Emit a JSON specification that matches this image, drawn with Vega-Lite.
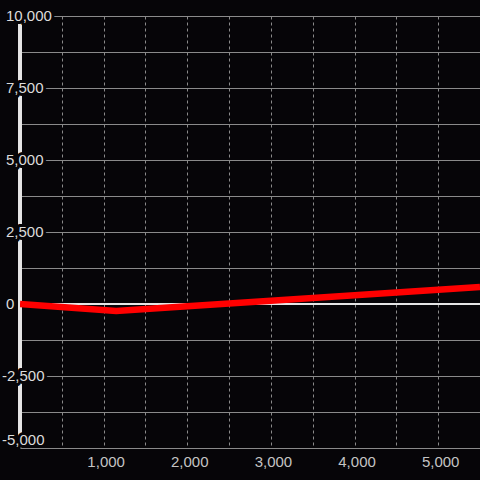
{
  "$schema": "https://vega.github.io/schema/vega-lite/v6.json",
  "width": 460,
  "height": 432,
  "autosize": {"type": "none"},
  "padding": {"left": 20, "top": 16, "right": 0, "bottom": 32},
  "background": "#060508",
  "config": {
    "view": {"stroke": null},
    "axis": {"labelFont": "Liberation Sans", "labelFontSize": 15, "ticks": false, "title": null}
  },
  "data": {
    "values": [
      {"x": 0, "y": 0},
      {"x": 1150, "y": -240},
      {"x": 2000, "y": -78},
      {"x": 3000, "y": 112},
      {"x": 4000, "y": 302},
      {"x": 5000, "y": 492},
      {"x": 5500, "y": 587}
    ]
  },
  "layer": [
    {
      "mark": {"type": "rule", "color": "#e6e6e6", "strokeWidth": 3},
      "encoding": {
        "x": {
          "datum": 0, "type": "quantitative",
          "scale": {"domain": [0, 5500], "nice": false, "zero": false},
          "axis": {"values": [500, 1000, 1500, 2000, 2500, 3000, 3500, 4000, 4500, 5000, 5500], "labelExpr": "datum.value % 1000 === 0 ? format(datum.value, ',') : ''", "domain": true, "domainColor": "#8a8a8a", "domainWidth": 1, "grid": true, "gridColor": "#8a8a8a", "gridWidth": 1, "gridDash": [3, 3], "labelColor": "#c4c4c4", "labelPadding": 6, "labelBaseline": "top", "labelOffset": 2, "labelFlush": false, "labelBound": false, "labelOverlap": false}
        },
        "y": {
          "datum": -5000, "type": "quantitative",
          "scale": {"domain": [-5000, 10000], "nice": false, "zero": false},
          "axis": {"values": [-5000, -3750, -2500, -1250, 1250, 2500, 3750, 5000, 6250, 7500, 8750, 10000], "domain": false, "labels": false, "grid": true, "gridColor": "#8a8a8a", "gridWidth": 1}
        },
        "y2": {"datum": 10000}
      }
    },
    {
      "mark": {"type": "rule", "color": "#e6e6e6", "strokeWidth": 2},
      "encoding": {
        "y": {
          "datum": 0, "type": "quantitative",
          "scale": {"domain": [-5000, 10000], "nice": false, "zero": false},
          "axis": {"values": [-5000, -3750, -2500, -1250, 1250, 2500, 3750, 5000, 6250, 7500, 8750, 10000], "domain": false, "labels": false, "grid": true, "gridColor": "#8a8a8a", "gridWidth": 1}
        }
      }
    },
    {
      "mark": {"type": "line", "color": "#ff0000", "strokeWidth": 6.5, "clip": true},
      "encoding": {
        "x": {
          "field": "x", "type": "quantitative",
          "scale": {"domain": [0, 5500], "nice": false, "zero": false},
          "axis": {"values": [500, 1000, 1500, 2000, 2500, 3000, 3500, 4000, 4500, 5000, 5500], "labelExpr": "datum.value % 1000 === 0 ? format(datum.value, ',') : ''", "domain": true, "domainColor": "#8a8a8a", "domainWidth": 1, "grid": true, "gridColor": "#8a8a8a", "gridWidth": 1, "gridDash": [3, 3], "labelColor": "#c4c4c4", "labelPadding": 6, "labelBaseline": "top", "labelOffset": 2, "labelFlush": false, "labelBound": false, "labelOverlap": false}
        },
        "y": {
          "field": "y", "type": "quantitative",
          "scale": {"domain": [-5000, 10000], "nice": false, "zero": false},
          "axis": {"values": [-5000, -3750, -2500, -1250, 1250, 2500, 3750, 5000, 6250, 7500, 8750, 10000], "domain": false, "labels": false, "grid": true, "gridColor": "#8a8a8a", "gridWidth": 1}
        }
      }
    },
    {
      "data": {
        "values": [
          {"v": -5000, "label": "-5,000"},
          {"v": -2500, "label": "-2,500"},
          {"v": 0, "label": "0"},
          {"v": 2500, "label": "2,500"},
          {"v": 5000, "label": "5,000"},
          {"v": 7500, "label": "7,500"},
          {"v": 10000, "label": "10,000"}
        ]
      },
      "mark": {
        "type": "text", "font": "Liberation Sans", "fontSize": 15, "align": "left",
        "baseline": {"expr": "datum.v === -5000 ? 'bottom' : 'middle'"},
        "dx": {"expr": "datum.v < 0 ? -18 : -14"},
        "color": "#060508", "stroke": "#060508", "strokeWidth": 6, "strokeJoin": "round"
      },
      "encoding": {
        "text": {"field": "label"},
        "x": {
          "datum": 0, "type": "quantitative",
          "scale": {"domain": [0, 5500], "nice": false, "zero": false},
          "axis": {"values": [500, 1000, 1500, 2000, 2500, 3000, 3500, 4000, 4500, 5000, 5500], "labelExpr": "datum.value % 1000 === 0 ? format(datum.value, ',') : ''", "domain": true, "domainColor": "#8a8a8a", "domainWidth": 1, "grid": true, "gridColor": "#8a8a8a", "gridWidth": 1, "gridDash": [3, 3], "labelColor": "#c4c4c4", "labelPadding": 6, "labelBaseline": "top", "labelOffset": 2, "labelFlush": false, "labelBound": false, "labelOverlap": false}
        },
        "y": {
          "field": "v", "type": "quantitative",
          "scale": {"domain": [-5000, 10000], "nice": false, "zero": false},
          "axis": {"values": [-5000, -3750, -2500, -1250, 1250, 2500, 3750, 5000, 6250, 7500, 8750, 10000], "domain": false, "labels": false, "grid": true, "gridColor": "#8a8a8a", "gridWidth": 1}
        }
      }
    },
    {
      "data": {
        "values": [
          {"v": -5000, "label": "-5,000"},
          {"v": -2500, "label": "-2,500"},
          {"v": 0, "label": "0"},
          {"v": 2500, "label": "2,500"},
          {"v": 5000, "label": "5,000"},
          {"v": 7500, "label": "7,500"},
          {"v": 10000, "label": "10,000"}
        ]
      },
      "mark": {
        "type": "text", "font": "Liberation Sans", "fontSize": 15, "align": "left",
        "baseline": {"expr": "datum.v === -5000 ? 'bottom' : 'middle'"},
        "dx": {"expr": "datum.v < 0 ? -18 : -14"},
        "color": "#dcdcdc"
      },
      "encoding": {
        "text": {"field": "label"},
        "x": {
          "datum": 0, "type": "quantitative",
          "scale": {"domain": [0, 5500], "nice": false, "zero": false},
          "axis": {"values": [500, 1000, 1500, 2000, 2500, 3000, 3500, 4000, 4500, 5000, 5500], "labelExpr": "datum.value % 1000 === 0 ? format(datum.value, ',') : ''", "domain": true, "domainColor": "#8a8a8a", "domainWidth": 1, "grid": true, "gridColor": "#8a8a8a", "gridWidth": 1, "gridDash": [3, 3], "labelColor": "#c4c4c4", "labelPadding": 6, "labelBaseline": "top", "labelOffset": 2, "labelFlush": false, "labelBound": false, "labelOverlap": false}
        },
        "y": {
          "field": "v", "type": "quantitative",
          "scale": {"domain": [-5000, 10000], "nice": false, "zero": false},
          "axis": {"values": [-5000, -3750, -2500, -1250, 1250, 2500, 3750, 5000, 6250, 7500, 8750, 10000], "domain": false, "labels": false, "grid": true, "gridColor": "#8a8a8a", "gridWidth": 1}
        }
      }
    }
  ]
}
